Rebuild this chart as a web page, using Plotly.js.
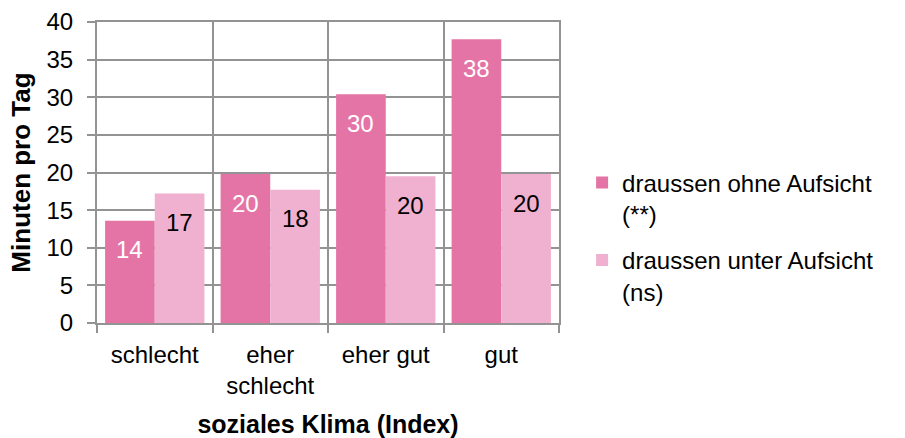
<!DOCTYPE html>
<html>
<head>
<meta charset="utf-8">
<script src="https://cdn.plot.ly/plotly-3.0.1.min.js"></script>
<style>
  html, body { margin: 0; padding: 0; background: #fff; }
  #chart { width: 905px; height: 438px; }
</style>
</head>
<body>
<div id="chart"></div>
<script>
const categories = ["schlecht", "eher schlecht", "eher gut", "gut"];
const tickLabels = ["schlecht", "eher<br>schlecht", "eher gut", "gut"];
const ohneAufsicht = [13.6, 19.8, 30.4, 37.7];
const unterAufsicht = [17.2, 17.7, 19.5, 19.8];
const seriesNames = ["draussen ohne Aufsicht<br>(**)", "draussen unter Aufsicht<br>(ns)"];

const FONT = "Liberation Sans, Arial, sans-serif";
const margin = { l: 97, r: 346, t: 22, b: 115 };
const bargap = 0.14;
const GRID = "#939393";

function drawChart() {
    const traces = [
        { values: ohneAufsicht, color: "#E574A6" },
        { values: unterAufsicht, color: "#F0B0CF" }
    ].map((s, i) => ({
        type: "bar",
        x: categories,
        y: s.values,
        name: seriesNames[i],
        legendgroup: "g" + i,
        marker: { color: s.color, line: { width: 0 } },
        hoverinfo: "skip"
    }));

    // data labels sit a little below the top of each bar, like the Excel original
    const plotWidth = 905 - margin.l - margin.r;
    const barWidth = plotWidth / categories.length * (1 - bargap) / 2;
    const annotations = [];
    [ohneAufsicht, unterAufsicht].forEach((vals, i) => {
        vals.forEach((v, j) => {
            annotations.push({
                x: categories[j], y: v, xref: "x", yref: "y",
                xshift: (i === 0 ? -1 : 1) * barWidth / 2,
                yshift: -29,
                text: String(Math.round(v)),
                showarrow: false,
                font: { family: FONT, size: 24, color: i === 0 ? "#ffffff" : "#000000" }
            });
        });
    });

    const layout = {
        width: 905,
        height: 438,
        margin,
        paper_bgcolor: "#ffffff",
        plot_bgcolor: "#ffffff",
        font: { family: FONT, size: 24, color: "#000000" },
        barmode: "group",
        bargap,
        bargroupgap: 0,
        showlegend: true,
        legend: {
            x: 1.05, xanchor: "left",
            y: 0.54, yanchor: "top",
            traceorder: "grouped",
            tracegroupgap: 12,
            valign: "top",
            font: { family: FONT, size: 24 },
            bgcolor: "rgba(0,0,0,0)"
        },
        xaxis: {
            type: "category",
            tickvals: categories,
            ticktext: tickLabels,
            tickson: "boundaries",
            ticks: "outside",
            ticklen: 8,
            tickwidth: 2,
            tickcolor: GRID,
            ticklabelstandoff: 9,
            showgrid: true,
            gridcolor: GRID,
            gridwidth: 2,
            showline: true,
            linecolor: GRID,
            linewidth: 2,
            mirror: true,
            tickfont: { family: FONT, size: 24 },
            title: {
                text: "<b>soziales Klima (Index)</b>",
                font: { family: FONT, size: 25 },
                standoff: 22
            }
        },
        yaxis: {
            range: [0, 40],
            dtick: 5,
            ticks: "outside",
            ticklen: 8,
            tickwidth: 2,
            tickcolor: GRID,
            ticklabelstandoff: 9,
            showgrid: true,
            gridcolor: GRID,
            gridwidth: 2,
            showline: true,
            linecolor: GRID,
            linewidth: 2,
            mirror: true,
            zeroline: false,
            tickfont: { family: FONT, size: 24 },
            title: {
                text: "<b>Minuten pro Tag</b>",
                font: { family: FONT, size: 26 },
                standoff: 8
            }
        },
        annotations
    };

    Plotly.newPlot("chart", traces, layout, { staticPlot: true, displayModeBar: false });
}

document.addEventListener("DOMContentLoaded", drawChart);
</script>
</body>
</html>
